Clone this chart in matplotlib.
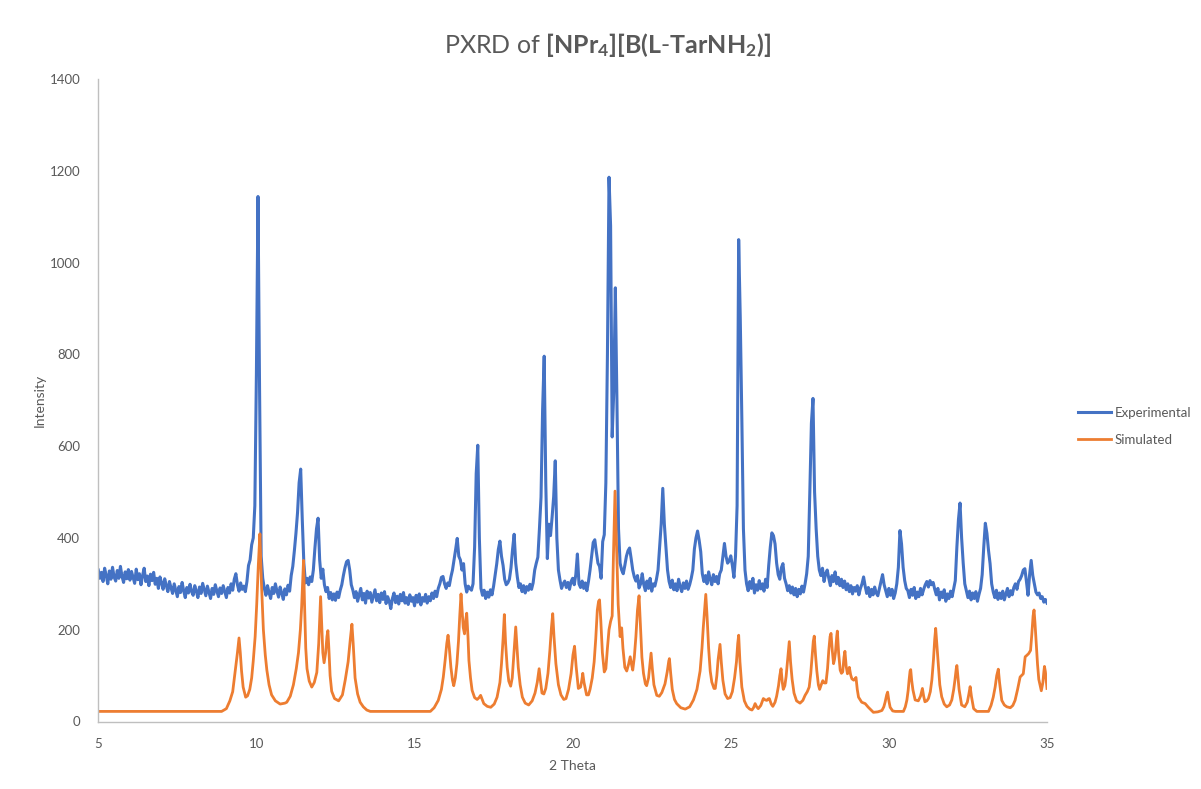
import numpy as np
import matplotlib
matplotlib.use("Agg")
import matplotlib.pyplot as plt

plt.rcParams['font.family'] = ['Lato', 'DejaVu Sans']
plt.rcParams['mathtext.fontset'] = 'custom'
plt.rcParams['mathtext.rm'] = 'Lato'
plt.rcParams['mathtext.it'] = 'Lato:italic'
plt.rcParams['mathtext.bf'] = 'Lato:bold'

TITLE = r"PXRD of $\mathbf{[NPr_4][B(L}$-$\mathbf{TarNH_2)]}$"
X_LABEL = "2 Theta"
Y_LABEL = "Intensity"
SERIES_NAMES = ["Experimental", "Simulated"]
X_TICKS = [5, 10, 15, 20, 25, 30, 35]
Y_TICKS = [0, 200, 400, 600, 800, 1000, 1200, 1400]

# Experimental pattern: intensities read every 0.05 deg 2-theta from 5.00 to 35.00
EXP_START = 5.0
EXP_STEP = 0.05
exp_y = [
    330, 312, 325, 305, 334, 318, 300, 328, 310, 336, 315, 306, 329, 312, 338, 316, 303, 326, 311, 331,   # 5
    308, 327, 314, 301, 332, 309, 322, 298, 318, 334, 305, 317, 296, 321, 307, 325, 299, 312, 290, 315,   # 6
    302, 288, 311, 296, 283, 305, 291, 279, 300, 286, 272, 294, 281, 303, 285, 270, 292, 280, 299, 283,   # 7
    275, 296, 284, 270, 293, 279, 301, 287, 274, 295, 281, 268, 290, 277, 298, 284, 272, 291, 279, 296,   # 8
    283, 270, 292, 280, 300, 286, 310, 322, 298, 284, 302, 288, 295, 283, 305, 340, 352, 385, 400, 470,   # 9
    760, 1144, 720, 360, 312, 290, 275, 296, 281, 268, 292, 279, 300, 284, 271, 293, 280, 266, 289, 276,  # 10
    297, 284, 318, 338, 372, 410, 455, 520, 550, 440, 345, 302, 312, 298, 315, 305, 330, 378, 420, 443,   # 11
    352, 312, 332, 298, 283, 292, 268, 281, 265, 278, 264, 282, 270, 286, 298, 318, 335, 348, 351, 330,   # 12
    298, 286, 270, 283, 262, 276, 290, 265, 279, 258, 284, 269, 281, 260, 274, 287, 263, 277, 259, 280,   # 13
    266, 283, 257, 272, 262, 246, 268, 280, 259, 273, 256, 277, 263, 281, 258, 270, 255, 276, 262, 270,   # 14
    252, 275, 260, 278, 254, 270, 262, 277, 258, 272, 263, 280, 268, 284, 272, 290, 300, 314, 316, 300,   # 15
    290, 302, 296, 315, 330, 352, 375, 399, 360, 352, 330, 344, 300, 282, 295, 290, 286, 300, 380, 540,   # 16
    602, 400, 290, 275, 286, 268, 282, 271, 287, 276, 295, 320, 344, 375, 393, 360, 340, 310, 298, 302,   # 17
    310, 335, 375, 408, 345, 315, 292, 300, 283, 296, 280, 294, 286, 299, 288, 302, 330, 345, 358, 420,   # 18
    489, 680, 796, 520, 355, 430, 405, 445, 490, 568, 400, 330, 308, 290, 300, 306, 292, 303, 288, 305,   # 19
    312, 298, 320, 365, 300, 292, 306, 290, 302, 285, 305, 330, 361, 390, 396, 369, 345, 338, 312, 392,   # 20
    407, 520, 800, 1186, 1080, 620, 720, 945, 700, 420, 345, 330, 322, 340, 360, 372, 378, 355, 330, 315,  # 21
    306, 318, 291, 300, 322, 298, 285, 306, 290, 312, 284, 300, 295, 310, 330, 380, 430, 508, 430, 380,   # 22
    330, 305, 292, 308, 287, 300, 285, 310, 294, 283, 302, 290, 306, 288, 298, 312, 330, 376, 400, 415,   # 23
    395, 370, 322, 305, 318, 300, 326, 310, 298, 320, 305, 316, 300, 322, 330, 360, 388, 360, 345, 350,   # 24
    361, 340, 314, 360, 470, 1050, 880, 660, 420, 330, 300, 285, 305, 290, 312, 280, 298, 286, 307, 289,  # 25
    300, 284, 310, 292, 340, 380, 411, 405, 387, 345, 320, 310, 335, 344, 312, 300, 285, 296, 280, 293,   # 26
    276, 290, 272, 288, 278, 295, 282, 300, 322, 360, 500, 650, 704, 500, 420, 360, 330, 318, 334, 305,   # 27
    322, 330, 312, 296, 318, 305, 326, 300, 314, 296, 310, 292, 306, 287, 300, 283, 296, 278, 292, 284,   # 28
    296, 276, 290, 300, 315, 295, 279, 292, 272, 288, 276, 293, 280, 274, 290, 305, 320, 298, 285, 272,   # 29
    290, 275, 288, 268, 280, 300, 336, 416, 387, 336, 307, 290, 285, 270, 288, 275, 292, 268, 282, 272,   # 30
    290, 276, 288, 298, 305, 293, 307, 298, 303, 288, 276, 290, 265, 282, 270, 287, 262, 278, 268, 284,   # 31
    272, 290, 307, 380, 440, 476, 400, 345, 300, 285, 270, 284, 265, 280, 268, 283, 262, 277, 290, 320,   # 32
    380, 432, 410, 373, 344, 300, 282, 270, 286, 266, 280, 268, 284, 265, 278, 290, 272, 285, 276, 292,   # 33
    300, 288, 305, 310, 318, 330, 333, 305, 275, 320, 351, 318, 300, 282, 276, 280, 268, 272, 260, 266,   # 34
    258,                                                                                                  # 35
]

# Simulated pattern: points
sim_x = [
    5.00, 8.90, 9.05, 9.16, 9.25, 9.32, 9.40, 9.45, 9.49, 9.53, 9.58, 9.66, 9.72, 9.79, 9.85, 9.90, 9.96,
    10.01, 10.06, 10.11, 10.16, 10.22, 10.28, 10.33, 10.40, 10.48, 10.60, 10.75, 10.90, 10.96, 11.07,
    11.17, 11.26, 11.33, 11.39, 11.43, 11.47, 11.49, 11.52, 11.56, 11.60, 11.67, 11.75, 11.83, 11.91,
    11.97, 12.01, 12.03, 12.06, 12.10, 12.14, 12.19, 12.23, 12.26, 12.29, 12.33, 12.38, 12.47, 12.60,
    12.72, 12.81, 12.90, 12.97, 13.02, 13.06, 13.12, 13.20, 13.28, 13.38, 13.49, 13.60, 15.50, 15.62,
    15.75, 15.85, 15.91, 15.97, 16.02, 16.06, 16.10, 16.15, 16.20, 16.24, 16.29, 16.34, 16.39, 16.43,
    16.47, 16.51, 16.54, 16.58, 16.62, 16.65, 16.69, 16.72, 16.77, 16.82, 16.90, 16.98, 17.04, 17.09,
    17.14, 17.19, 17.30, 17.41, 17.52, 17.61, 17.70, 17.75, 17.80, 17.84, 17.88, 17.93, 17.98, 18.04,
    18.09, 18.12, 18.17, 18.20, 18.24, 18.28, 18.34, 18.41, 18.50, 18.61, 18.72, 18.81, 18.88, 18.94,
    18.98, 19.03, 19.09, 19.15, 19.22, 19.28, 19.33, 19.37, 19.41, 19.47, 19.55, 19.63, 19.72, 19.79,
    19.87, 19.95, 20.01, 20.06, 20.11, 20.18, 20.25, 20.29, 20.32, 20.36, 20.44, 20.50, 20.55, 20.62,
    20.68, 20.73, 20.78, 20.82, 20.85, 20.89, 20.94, 21.00, 21.05, 21.10, 21.15, 21.20, 21.25, 21.29,
    21.34, 21.39, 21.44, 21.50, 21.55, 21.59, 21.65, 21.71, 21.77, 21.82, 21.86, 21.90, 21.95, 22.00,
    22.05, 22.10, 22.14, 22.19, 22.24, 22.30, 22.34, 22.40, 22.45, 22.48, 22.52, 22.57, 22.66, 22.74,
    22.82, 22.92, 22.99, 23.04, 23.06, 23.10, 23.15, 23.22, 23.29, 23.42, 23.56, 23.70, 23.82, 23.93,
    24.03, 24.09, 24.13, 24.18, 24.21, 24.25, 24.30, 24.35, 24.40, 24.47, 24.51, 24.56, 24.60, 24.66,
    24.70, 24.75, 24.82, 24.90, 24.98, 25.05, 25.12, 25.18, 25.22, 25.25, 25.29, 25.35, 25.43, 25.51,
    25.60, 25.67, 25.72, 25.77, 25.82, 25.87, 25.95, 26.03, 26.09, 26.14, 26.18, 26.22, 26.28, 26.33,
    26.40, 26.45, 26.51, 26.55, 26.59, 26.63, 26.66, 26.71, 26.75, 26.80, 26.85, 26.89, 26.94, 27.00,
    27.08, 27.19, 27.28, 27.35, 27.42, 27.48, 27.53, 27.57, 27.61, 27.64, 27.68, 27.72, 27.77, 27.81,
    27.86, 27.91, 27.96, 28.01, 28.06, 28.10, 28.14, 28.17, 28.21, 28.25, 28.28, 28.31, 28.35, 28.37,
    28.41, 28.46, 28.50, 28.54, 28.58, 28.61, 28.65, 28.69, 28.72, 28.75, 28.79, 28.83, 28.89, 28.96,
    29.00, 29.04, 29.14, 29.25, 29.35, 29.45, 29.51, 29.65, 29.78, 29.84, 29.88, 29.93, 29.96, 30.00,
    30.04, 30.12, 30.20, 30.46, 30.52, 30.57, 30.61, 30.64, 30.67, 30.69, 30.72, 30.76, 30.83, 30.93,
    31.00, 31.06, 31.10, 31.14, 31.20, 31.25, 31.31, 31.36, 31.41, 31.45, 31.48, 31.52, 31.56, 31.61,
    31.67, 31.75, 31.83, 31.92, 31.99, 32.05, 32.09, 32.13, 32.15, 32.18, 32.22, 32.30, 32.40, 32.48,
    32.53, 32.57, 32.61, 32.68, 32.78, 33.15, 33.23, 33.30, 33.36, 33.41, 33.46, 33.50, 33.57, 33.65,
    33.73, 33.84, 33.92, 33.99, 34.07, 34.15, 34.25, 34.31, 34.36, 34.42, 34.48, 34.52, 34.56, 34.59,
    34.62, 34.66, 34.70, 34.74, 34.82, 34.87, 34.90, 34.92, 34.95, 35.00,
]
sim_y = [
    22, 22, 28, 45, 65, 104, 150, 182, 150, 110, 75, 53, 56, 70, 95, 132, 185,
    256, 340, 409, 300, 200, 145, 112, 80, 58, 45, 38, 40, 42, 55,
    80, 115, 150, 200, 250, 320, 351, 260, 160, 115, 88, 75, 85, 107,
    170, 240, 272, 220, 150, 128, 150, 185, 198, 160, 100, 66, 50, 45,
    58, 91, 130, 180, 212, 170, 95, 60, 42, 32, 25, 22, 22, 30,
    46, 70, 97, 135, 170, 188, 160, 118, 90, 78, 95, 126, 175, 230,
    278, 235, 205, 191, 222, 236, 185, 133, 95, 68, 52, 48, 52, 57,
    48, 39, 33, 31, 38, 53, 85, 126, 180, 233, 170, 118, 88, 77,
    95, 126, 175, 206, 160, 118, 80, 53, 40, 36, 45, 62, 85, 115,
    90, 62, 60, 72, 105, 155, 205, 235, 185, 126, 80, 58, 48, 50,
    70, 104, 145, 164, 120, 72, 75, 90, 105, 85, 58, 58, 70, 95,
    130, 180, 243, 262, 265, 220, 150, 108, 115, 160, 200, 218, 230, 361,
    502, 380, 255, 185, 204, 160, 118, 110, 125, 141, 125, 112, 140, 185,
    243, 274, 215, 140, 105, 82, 78, 95, 130, 149, 115, 80, 57, 55,
    63, 82, 108, 132, 137, 105, 70, 48, 39, 30, 27, 32, 47, 70,
    110, 160, 204, 250, 277, 230, 160, 110, 86, 72, 72, 100, 135, 168,
    130, 90, 60, 50, 52, 65, 95, 130, 170, 188, 130, 75, 45, 33,
    27, 25, 30, 39, 32, 28, 35, 50, 47, 46, 49, 50, 38, 33,
    42, 55, 78, 100, 115, 85, 70, 78, 98, 135, 174, 130, 92, 62,
    45, 40, 46, 57, 65, 75, 105, 140, 175, 186, 145, 111, 80, 70,
    80, 89, 84, 84, 115, 155, 185, 192, 155, 126, 135, 150, 185, 197,
    150, 112, 105, 108, 140, 153, 120, 104, 108, 118, 102, 93, 90, 96,
    70, 53, 42, 39, 31, 24, 20, 21, 24, 32, 42, 58, 64, 45,
    31, 23, 22, 22, 32, 47, 68, 91, 110, 113, 90, 69, 47, 45,
    55, 72, 55, 43, 45, 50, 65, 91, 135, 180, 203, 165, 127, 80,
    54, 38, 32, 36, 47, 70, 91, 115, 122, 100, 70, 36, 32, 42,
    60, 76, 55, 28, 22, 22, 35, 53, 75, 100, 114, 85, 46, 36,
    32, 30, 35, 46, 70, 97, 104, 141, 144, 148, 155, 190, 230, 243,
    215, 171, 125, 92, 67, 85, 108, 120, 108, 72,
]

BLUE = "#4472C4"
ORANGE = "#ED7D31"
TEXT = "#595959"
AXIS = "#BFBFBF"

W, H = 1201, 789
fig = plt.figure(figsize=(W / 100, H / 100), dpi=100)
ax = fig.add_axes([98.3 / W, 1 - 721.5 / H, (1047 - 98.3) / W, (721.5 - 79) / H])

exp_x = EXP_START + EXP_STEP * np.arange(len(exp_y))
ax.plot(exp_x, exp_y, color=BLUE, lw=2.2, label=SERIES_NAMES[0], solid_joinstyle='round')
ax.plot(sim_x, sim_y, color=ORANGE, lw=2.0, label=SERIES_NAMES[1], solid_joinstyle='round')

ax.set_xlim(5, 35)
ax.set_ylim(0, 1400)
ax.set_xticks(X_TICKS)
ax.set_yticks(Y_TICKS)
ax.tick_params(length=0, labelsize=9.5, labelcolor=TEXT)
ax.tick_params(axis='x', pad=12)
ax.tick_params(axis='y', pad=13)
for s in ['top', 'right']:
    ax.spines[s].set_visible(False)
for s in ['left', 'bottom']:
    ax.spines[s].set_color(AXIS)
    ax.spines[s].set_linewidth(1.0)

fig.text(572.6 / W, 1 - 766 / H, X_LABEL, ha='center', va='center', fontsize=10, color=TEXT)
fig.text(40 / W, 1 - 400 / H, Y_LABEL, ha='center', va='center', fontsize=10, color=TEXT, rotation=90)
fig.text(608 / W, 1 - 45 / H, TITLE, ha='center', va='center', fontsize=18, color=TEXT)

leg = fig.legend(loc='center left', bbox_to_anchor=(1078 / W, 1 - 426.5 / H), frameon=False,
                 fontsize=9.5, handlelength=2.5, handletextpad=0.3, labelspacing=1.15,
                 borderpad=0, borderaxespad=0)
for t in leg.get_texts():
    t.set_color(TEXT)

fig.savefig("out.png", dpi=100)
